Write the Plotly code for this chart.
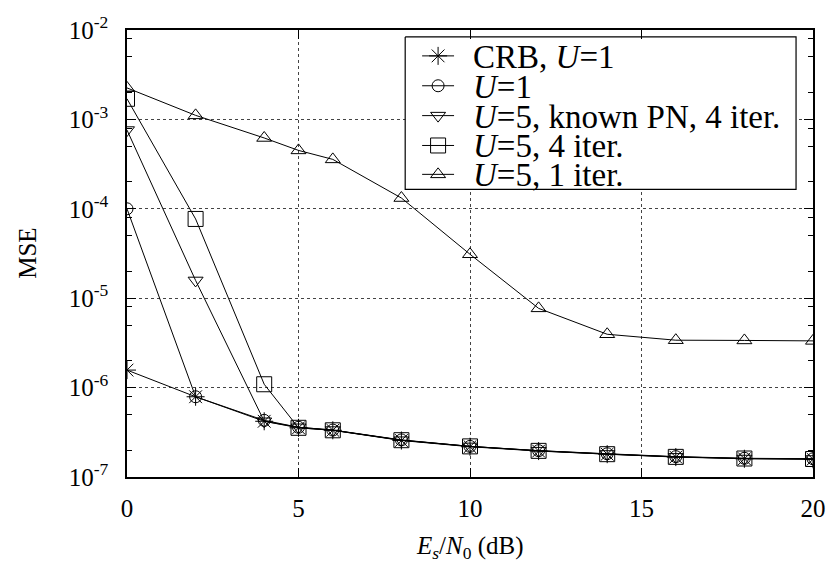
import plotly.graph_objects as go

# ---------------- data ----------------
snr_db = [0, 2, 4, 5, 6, 8, 10, 12, 14, 16, 18, 20]
crb_u1 = [1.57e-6, 7.9e-7, 4.2e-7, 3.55e-7, 3.33e-7, 2.56e-7, 2.18e-7, 1.95e-7, 1.80e-7, 1.67e-7, 1.60e-7, 1.58e-7]
mse_u1 = [1.0e-4, 7.9e-7, 4.3e-7, 3.6e-7, 3.35e-7, 2.6e-7, 2.2e-7, 1.97e-7, 1.82e-7, 1.69e-7, 1.62e-7, 1.60e-7]
mse_u5_known = [7.6e-4, 1.58e-5, 4.2e-7, 3.6e-7, 3.35e-7, 2.58e-7, 2.2e-7, 1.97e-7, 1.81e-7, 1.68e-7, 1.61e-7, 1.59e-7]
mse_u5_4it = [1.7e-3, 7.7e-5, 1.09e-6, 3.55e-7, 3.33e-7, 2.58e-7, 2.2e-7, 1.96e-7, 1.80e-7, 1.68e-7, 1.61e-7, 1.59e-7]
mse_u5_1it = [2.25e-3, 1.11e-3, 6.2e-4, 4.5e-4, 3.57e-4, 1.32e-4, 3.1e-5, 7.7e-6, 3.95e-6, 3.39e-6, 3.37e-6, 3.33e-6]

series_names = ["CRB, <i>U</i>=1", "<i>U</i>=1", "<i>U</i>=5, known PN, 4 iter.",
                "<i>U</i>=5, 4 iter.", "<i>U</i>=5, 1 iter."]
series_values = [crb_u1, mse_u1, mse_u5_known, mse_u5_4it, mse_u5_1it]
series_symbols = ["asterisk-open", "circle-open", "triangle-down-open", "square-open", "triangle-up-open"]
series_sizes = [15, 12, 13, 15, 13]

y_tickvals = [1e-7, 1e-6, 1e-5, 1e-4, 1e-3, 1e-2]
y_ticktext = ["10<sup>-7</sup>", "10<sup>-6</sup>", "10<sup>-5</sup>", "10<sup>-4</sup>",
              "10<sup>-3</sup>", "10<sup>-2</sup>"]
x_tickvals = [0, 5, 10, 15, 20]
minor_mult = [2, 5, 8]
y_minor = [m * 10.0 ** e for e in range(-7, -2) for m in minor_mult]

FONT = "Liberation Serif"
W, H = 838, 571
ML, MR, MT, MB = 127, 23, 28, 94

fig = go.Figure()

for name, vals, sym, sz in zip(series_names, series_values, series_symbols, series_sizes):
    fig.add_trace(go.Scatter(
        x=snr_db, y=vals, mode="lines+markers", name=name, showlegend=False,
        line=dict(color="black", width=1),
        marker=dict(symbol=sym, size=sz, color="black", line=dict(color="black", width=1)),
    ))

# ---------------- manual legend (pixel-coordinate overlay axes) ----------------
box_x = [406, 798, 798, 406, 406]
box_y = [35, 35, 188, 188, 35]
fig.add_trace(go.Scatter(
    x=box_x, y=box_y, mode="lines", fill="toself", fillcolor="white",
    xaxis="x2", yaxis="y2", showlegend=False, hoverinfo="skip",
    line=dict(color="black", width=1.2)))

leg_rows = [54, 84, 114, 144, 173]
leg_line_x = [423, 455]
leg_text_x = 472
for name, sym, sz, ry in zip(series_names, series_symbols, series_sizes, leg_rows):
    fig.add_trace(go.Scatter(
        x=leg_line_x, y=[ry, ry], mode="lines", xaxis="x2", yaxis="y2", showlegend=False,
        line=dict(color="black", width=1), hoverinfo="skip"))
    fig.add_trace(go.Scatter(
        x=[sum(leg_line_x) / 2], y=[ry], mode="markers", xaxis="x2", yaxis="y2", showlegend=False,
        marker=dict(symbol=sym, size=sz, color="black", line=dict(color="black", width=1)),
        hoverinfo="skip"))
    fig.add_annotation(x=leg_text_x, y=ry + 1, xref="x2", yref="y2", text=name, showarrow=False,
                       xanchor="left", yanchor="middle",
                       font=dict(family=FONT, size=33, color="black"))

axis_common = dict(
    showline=True, linecolor="black", linewidth=1.5, mirror="ticks",
    ticks="inside", ticklen=9, tickwidth=1, tickcolor="black",
    showgrid=True, gridcolor="#444", griddash="dot", gridwidth=1,
    zeroline=False, tickfont=dict(family=FONT, size=25, color="black"),
)

fig.update_layout(
    width=W, height=H, margin=dict(l=ML, r=MR, t=MT, b=MB),
    paper_bgcolor="white", plot_bgcolor="white", showlegend=False,
    font=dict(family=FONT, color="black"),
    xaxis=dict(range=[0, 20], tickvals=x_tickvals, ticklabelstandoff=8, **axis_common),
    yaxis=dict(type="log", range=[-7, -2], tickvals=y_tickvals, ticktext=y_ticktext,
               ticklabelstandoff=12,
               minor=dict(tickvals=y_minor, ticks="inside", ticklen=5, tickcolor="black",
                          tickwidth=1, showgrid=False),
               **axis_common),
    xaxis2=dict(range=[ML, W - MR], overlaying="x", visible=False, fixedrange=True),
    yaxis2=dict(range=[H - MB, MT], overlaying="y", visible=False, fixedrange=True),
)

fig.add_annotation(x=0.5, y=(H - MB - 548) / (H - MT - MB), xref="paper", yref="paper",
                   text="<i>E<sub>s</sub></i>/<i>N</i><sub>0</sub> (dB)", showarrow=False,
                   xanchor="center", yanchor="middle",
                   font=dict(family=FONT, size=25, color="black"))
fig.add_annotation(x=(27 - ML) / (W - ML - MR), y=0.5, xref="paper", yref="paper",
                   text="MSE", showarrow=False, textangle=-90,
                   xanchor="center", yanchor="middle",
                   font=dict(family=FONT, size=25, color="black"))

fig.write_html("out.html")
